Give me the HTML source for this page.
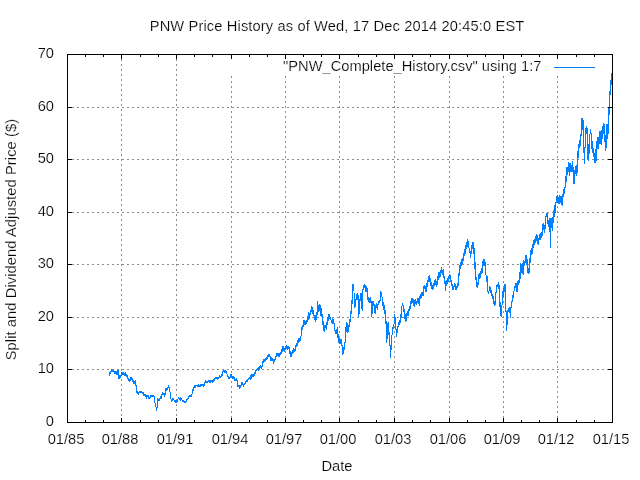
<!DOCTYPE html>
<html><head><meta charset="utf-8"><title>PNW Price History</title>
<style>
html,body{margin:0;padding:0;background:#fff;overflow:hidden}
svg{display:block}
text{font-family:"Liberation Sans",Arial,sans-serif;font-size:14.67px;fill:#000;stroke:#fff;stroke-width:0.2px}
</style></head><body>
<svg width="640" height="480" viewBox="0 0 640 480">
<rect width="640" height="480" fill="#fff"/>
<g stroke="#8c8c8c" stroke-width="1" shape-rendering="crispEdges" stroke-dasharray="2 3" fill="none">
<line x1="72" y1="369.5" x2="608" y2="369.5"/>
<line x1="72" y1="317.5" x2="608" y2="317.5"/>
<line x1="72" y1="264.5" x2="608" y2="264.5"/>
<line x1="72" y1="212.5" x2="608" y2="212.5"/>
<line x1="72" y1="159.5" x2="608" y2="159.5"/>
<line x1="72" y1="107.5" x2="608" y2="107.5"/>
<line x1="121.5" y1="59" x2="121.5" y2="418"/>
<line x1="176.5" y1="59" x2="176.5" y2="418"/>
<line x1="231.5" y1="76" x2="231.5" y2="418"/>
<line x1="285.5" y1="76" x2="285.5" y2="418"/>
<line x1="339.5" y1="76" x2="339.5" y2="418"/>
<line x1="394.5" y1="76" x2="394.5" y2="418"/>
<line x1="449.5" y1="76" x2="449.5" y2="418"/>
<line x1="503.5" y1="76" x2="503.5" y2="418"/>
<line x1="557.5" y1="76" x2="557.5" y2="418"/>
</g>
<path d="M109.38,375.6 L109.50,374.7 L109.62,375.0 L109.75,373.5 L109.88,372.7 L110,372.5 L110.12,371.8 L110.25,372.0 L110.38,373.6 L110.50,372.6 L110.62,373.1 L110.75,372.1 L110.88,372.2 L111,371.8 L111.12,370.2 L111.25,372.4 L111.38,371.8 L111.50,371.7 L111.62,369.8 L111.75,369.8 L111.88,370.6 L112,369.6 L112.12,370.0 L112.25,371.0 L112.38,370.6 L112.50,371.3 L112.62,369.7 L112.75,371.1 L112.88,371.2 L113,369.7 L113.12,371.8 L113.25,371.4 L113.38,372.1 L113.50,369.8 L113.62,370.0 L113.75,370.6 L113.88,370.5 L114,371.1 L114.12,372.4 L114.25,372.2 L114.38,371.6 L114.50,371.2 L114.62,372.1 L114.75,373.9 L114.88,372.4 L115,373.8 L115.12,373.8 L115.25,373.7 L115.38,371.3 L115.50,372.6 L115.62,373.7 L115.75,371.1 L115.88,371.1 L116,371.2 L116.12,371.6 L116.25,371.2 L116.38,373.3 L116.50,373.0 L116.62,371.6 L116.75,374.4 L116.88,374.4 L117,374.5 L117.12,374.4 L117.25,374.4 L117.38,373.4 L117.50,372.7 L117.62,370.6 L117.75,372.6 L117.88,370.6 L118,370.6 L118.12,370.6 L118.25,370.6 L118.38,372.4 L118.50,374.4 L118.62,378.1 L118.75,378.1 L118.88,375.5 L119,376.0 L119.12,377.9 L119.25,378.4 L119.38,377.9 L119.50,375.9 L119.62,375.7 L119.75,377.1 L119.88,375.5 L120,376.2 L120.12,374.9 L120.25,377.0 L120.38,376.8 L120.50,375.7 L120.62,375.6 L120.75,375.7 L120.88,376.2 L121,375.5 L121.12,375.2 L121.25,374.4 L121.38,375.0 L121.50,373.0 L121.62,375.2 L121.75,375.1 L121.88,374.4 L122,372.4 L122.12,372.7 L122.25,374.5 L122.38,372.1 L122.50,372.9 L122.62,374.2 L122.75,371.8 L122.88,374.1 L123,373.4 L123.12,372.5 L123.25,372.5 L123.38,373.3 L123.50,373.9 L123.62,373.4 L123.75,374.6 L123.88,372.8 L124,373.3 L124.12,375.0 L124.25,374.2 L124.38,374.4 L124.50,373.3 L124.62,375.4 L124.75,375.5 L124.88,373.9 L125,373.4 L125.12,374.4 L125.25,374.4 L125.38,374.2 L125.50,375.8 L125.62,373.5 L125.75,375.9 L125.88,373.6 L126,373.8 L126.12,375.6 L126.25,376.0 L126.38,376.0 L126.50,375.3 L126.62,375.1 L126.75,375.2 L126.88,375.0 L127,376.1 L127.12,375.5 L127.25,376.5 L127.38,377.2 L127.50,376.9 L127.62,378.2 L127.75,378.3 L127.88,379.3 L128,378.8 L128.12,378.8 L128.25,378.4 L128.38,378.7 L128.50,379.3 L128.62,380.5 L128.75,379.3 L128.88,380.3 L129,381.2 L129.12,379.2 L129.25,379.3 L129.38,380.9 L129.50,381.3 L129.62,381.3 L129.75,381.2 L129.88,380.5 L130,381.3 L130.12,380.6 L130.25,379.4 L130.38,381.2 L130.50,379.8 L130.62,378.4 L130.75,378.6 L130.88,378.2 L131,378.0 L131.12,377.3 L131.25,377.5 L131.38,377.2 L131.50,379.2 L131.62,377.4 L131.75,378.5 L131.88,379.9 L132,380.1 L132.12,380.6 L132.25,378.3 L132.38,379.4 L132.50,379.7 L132.62,381.1 L132.75,380.6 L132.88,382.2 L133,379.9 L133.12,382.8 L133.25,380.4 L133.38,382.9 L133.50,381.0 L133.62,383.0 L133.75,383.1 L133.88,383.6 L134,382.6 L134.12,382.8 L134.25,383.3 L134.38,382.4 L134.50,382.0 L134.62,383.0 L134.75,382.9 L134.88,381.3 L135,382.5 L135.12,380.3 L135.25,382.2 L135.38,380.7 L135.50,380.9 L135.62,380.6 L135.75,382.8 L135.88,383.7 L136,385.6 L136.12,384.8 L136.25,386.3 L136.38,389.8 L136.50,390.6 L136.62,390.0 L136.75,390.2 L136.88,390.1 L137,392.7 L137.12,392.5 L137.25,393.2 L137.38,391.5 L137.50,392.5 L137.62,391.8 L137.75,393.7 L137.88,393.8 L138,392.8 L138.12,393.8 L138.25,394.1 L138.38,394.0 L138.50,393.0 L138.62,392.0 L138.75,393.7 L138.88,392.5 L139,391.9 L139.12,392.6 L139.25,392.4 L139.38,391.9 L139.50,393.2 L139.62,391.2 L139.75,392.8 L139.88,392.9 L140,392.8 L140.12,391.7 L140.25,391.2 L140.38,392.7 L140.50,392.0 L140.62,392.0 L140.75,392.8 L140.88,391.7 L141,391.0 L141.12,391.5 L141.25,391.0 L141.38,392.6 L141.50,392.1 L141.62,391.4 L141.75,391.9 L141.88,392.6 L142,391.9 L142.12,393.0 L142.25,391.8 L142.38,392.8 L142.50,391.9 L142.62,393.4 L142.75,393.8 L142.88,392.3 L143,393.8 L143.12,391.9 L143.25,392.9 L143.38,392.6 L143.50,395.2 L143.62,393.7 L143.75,395.0 L143.88,395.2 L144,395.6 L144.12,395.6 L144.25,395.1 L144.38,395.7 L144.50,396.3 L144.62,395.4 L144.75,395.7 L144.88,396.1 L145,395.1 L145.12,394.3 L145.25,394.7 L145.38,395.9 L145.50,395.0 L145.62,395.0 L145.75,395.1 L145.88,396.8 L146,397.2 L146.12,397.1 L146.25,398.2 L146.38,398.3 L146.50,398.8 L146.62,397.5 L146.75,396.7 L146.88,396.9 L147,397.5 L147.12,396.0 L147.25,395.3 L147.38,395.0 L147.50,395.0 L147.62,395.0 L147.75,395.7 L147.88,395.2 L148,396.8 L148.12,395.2 L148.25,397.5 L148.38,397.2 L148.50,396.6 L148.62,398.8 L148.75,398.8 L148.88,398.4 L149,397.3 L149.12,397.6 L149.25,398.2 L149.38,397.5 L149.50,398.2 L149.62,398.0 L149.75,397.7 L149.88,397.3 L150,396.9 L150.12,397.7 L150.25,397.1 L150.38,396.8 L150.50,395.5 L150.62,396.9 L150.75,397.0 L150.88,395.8 L151,395.5 L151.12,396.6 L151.25,394.8 L151.38,395.9 L151.50,396.4 L151.62,394.6 L151.75,395.7 L151.88,395.0 L152,396.4 L152.12,395.3 L152.25,396.0 L152.38,396.4 L152.50,395.3 L152.62,396.1 L152.75,396.5 L152.88,397.1 L153,396.7 L153.12,396.9 L153.25,396.6 L153.38,395.8 L153.50,396.1 L153.62,396.8 L153.75,396.1 L153.88,395.6 L154,395.6 L154.12,395.9 L154.25,399.3 L154.38,399.0 L154.50,399.5 L154.62,398.2 L154.75,401.2 L154.88,401.9 L155,402.5 L155.12,404.0 L155.25,403.8 L155.38,404.1 L155.50,405.0 L155.62,404.2 L155.75,406.3 L155.88,406.5 L156,406.9 L156.12,407.2 L156.25,408.7 L156.38,409.5 L156.50,408.8 L156.62,409.7 L156.75,410.7 L156.88,411.2 L157,408.8 L157.12,406.1 L157.25,403.2 L157.38,402.6 L157.50,398.8 L157.62,399.6 L157.75,398.8 L157.88,398.8 L158,400.4 L158.12,400.0 L158.25,400.3 L158.38,400.2 L158.50,399.2 L158.62,400.0 L158.75,400.0 L158.88,398.6 L159,399.1 L159.12,399.4 L159.25,399.6 L159.38,398.6 L159.50,398.8 L159.62,399.0 L159.75,398.8 L159.88,398.8 L160,398.1 L160.12,398.3 L160.25,397.9 L160.38,398.7 L160.50,398.2 L160.62,397.5 L160.75,397.7 L160.88,398.1 L161,398.0 L161.12,398.1 L161.25,398.1 L161.38,397.4 L161.50,396.8 L161.62,395.9 L161.75,394.3 L161.88,394.9 L162,394.7 L162.12,393.1 L162.25,393.7 L162.38,393.4 L162.50,394.2 L162.62,393.3 L162.75,393.2 L162.88,394.6 L163,394.0 L163.12,395.0 L163.25,395.4 L163.38,393.8 L163.50,393.5 L163.62,393.5 L163.75,395.4 L163.88,393.8 L164,393.8 L164.12,393.8 L164.25,394.2 L164.38,395.7 L164.50,396.2 L164.62,396.5 L164.75,396.9 L164.88,396.9 L165,395.6 L165.12,394.1 L165.25,393.8 L165.38,393.8 L165.50,392.3 L165.62,391.5 L165.75,388.8 L165.88,388.8 L166,388.8 L166.12,389.5 L166.25,388.6 L166.38,389.9 L166.50,389.5 L166.62,389.9 L166.75,388.9 L166.88,390.1 L167,390.1 L167.12,389.0 L167.25,389.4 L167.38,389.4 L167.50,389.4 L167.62,388.5 L167.75,389.1 L167.88,388.7 L168,387.2 L168.12,385.5 L168.25,386.3 L168.38,385.9 L168.50,385.0 L168.62,386.6 L168.75,386.7 L168.88,386.4 L169,387.6 L169.12,387.8 L169.25,387.9 L169.38,388.1 L169.50,389.0 L169.62,389.5 L169.75,391.1 L169.88,390.4 L170,391.6 L170.12,393.0 L170.25,393.8 L170.38,393.4 L170.50,395.1 L170.62,396.2 L170.75,395.6 L170.88,397.4 L171,399.0 L171.12,399.8 L171.25,400.2 L171.38,400.9 L171.50,401.9 L171.62,400.5 L171.75,401.9 L171.88,400.8 L172,400.7 L172.12,398.9 L172.25,398.9 L172.38,398.1 L172.50,398.1 L172.62,398.9 L172.75,399.1 L172.88,398.0 L173,398.8 L173.12,399.5 L173.25,398.4 L173.38,398.5 L173.50,398.9 L173.62,399.4 L173.75,400.0 L173.88,399.3 L174,400.3 L174.12,400.6 L174.25,401.0 L174.38,401.2 L174.50,401.7 L174.62,401.8 L174.75,400.4 L174.88,401.0 L175,400.9 L175.12,401.0 L175.25,401.8 L175.38,402.0 L175.50,402.4 L175.62,402.2 L175.75,401.2 L175.88,401.3 L176,401.9 L176.12,401.7 L176.25,401.5 L176.38,401.6 L176.50,401.0 L176.62,401.8 L176.75,401.5 L176.88,401.1 L177,400.6 L177.12,400.8 L177.25,399.8 L177.38,400.1 L177.50,400.6 L177.62,400.3 L177.75,399.0 L177.88,399.8 L178,399.5 L178.12,398.1 L178.25,398.6 L178.38,398.2 L178.50,398.1 L178.62,398.5 L178.75,398.8 L178.88,398.4 L179,398.0 L179.12,398.5 L179.25,398.7 L179.38,399.4 L179.50,399.2 L179.62,398.6 L179.75,398.3 L179.88,399.0 L180,399.4 L180.12,398.9 L180.25,398.7 L180.38,399.4 L180.50,399.1 L180.62,399.6 L180.75,399.9 L180.88,399.3 L181,400.4 L181.12,399.4 L181.25,400.4 L181.38,399.7 L181.50,400.4 L181.62,399.0 L181.75,399.2 L181.88,399.8 L182,400.0 L182.12,400.3 L182.25,400.9 L182.38,400.3 L182.50,401.0 L182.62,400.7 L182.75,400.9 L182.88,400.7 L183,400.4 L183.12,400.9 L183.25,400.0 L183.38,401.5 L183.50,400.2 L183.62,401.1 L183.75,401.0 L183.88,401.9 L184,401.0 L184.12,401.3 L184.25,402.1 L184.38,401.4 L184.50,401.0 L184.62,401.7 L184.75,402.0 L184.88,402.2 L185,401.4 L185.12,402.7 L185.25,402.7 L185.38,402.1 L185.50,402.3 L185.62,402.2 L185.75,401.8 L185.88,402.2 L186,401.1 L186.12,401.7 L186.25,400.8 L186.38,400.4 L186.50,401.1 L186.62,401.2 L186.75,400.1 L186.88,399.5 L187,400.2 L187.12,399.4 L187.25,399.4 L187.38,400.0 L187.50,398.8 L187.62,399.4 L187.75,398.1 L187.88,399.2 L188,398.1 L188.12,398.5 L188.25,397.3 L188.38,397.6 L188.50,396.6 L188.62,398.1 L188.75,397.9 L188.88,396.1 L189,396.0 L189.12,395.9 L189.25,397.3 L189.38,396.2 L189.50,395.9 L189.62,396.1 L189.75,395.9 L189.88,396.0 L190,395.3 L190.12,396.1 L190.25,395.2 L190.38,395.9 L190.50,396.2 L190.62,396.3 L190.75,395.7 L190.88,395.2 L191,396.0 L191.12,395.4 L191.25,396.6 L191.38,396.3 L191.50,395.6 L191.62,395.3 L191.75,395.1 L191.88,395.6 L192,394.1 L192.12,393.7 L192.25,393.5 L192.38,392.8 L192.50,392.1 L192.62,392.7 L192.75,390.0 L192.88,389.1 L193,389.5 L193.12,391.4 L193.25,387.9 L193.38,388.3 L193.50,388.7 L193.62,388.5 L193.75,388.5 L193.88,387.6 L194,387.9 L194.12,387.4 L194.25,387.9 L194.38,386.9 L194.50,386.1 L194.62,385.9 L194.75,386.6 L194.88,385.6 L195,385.5 L195.12,387.0 L195.25,385.6 L195.38,386.8 L195.50,386.9 L195.62,386.3 L195.75,386.5 L195.88,385.8 L196,384.9 L196.12,385.7 L196.25,385.6 L196.38,386.1 L196.50,385.1 L196.62,385.5 L196.75,386.3 L196.88,384.7 L197,386.2 L197.12,386.5 L197.25,385.0 L197.38,385.7 L197.50,385.3 L197.62,386.5 L197.75,385.8 L197.88,386.4 L198,384.8 L198.12,385.4 L198.25,385.4 L198.38,384.5 L198.50,386.6 L198.62,386.3 L198.75,385.4 L198.88,384.8 L199,386.4 L199.12,385.7 L199.25,386.4 L199.38,386.5 L199.50,385.2 L199.62,386.2 L199.75,387.4 L199.88,386.2 L200,386.9 L200.12,385.7 L200.25,385.2 L200.38,385.1 L200.50,386.5 L200.62,386.9 L200.75,386.2 L200.88,385.8 L201,386.7 L201.12,384.7 L201.25,385.0 L201.38,384.4 L201.50,385.7 L201.62,385.8 L201.75,384.4 L201.88,384.4 L202,385.8 L202.12,385.8 L202.25,384.6 L202.38,385.5 L202.50,385.3 L202.62,386.4 L202.75,386.0 L202.88,385.8 L203,385.7 L203.12,385.3 L203.25,386.5 L203.38,386.4 L203.50,384.9 L203.62,386.0 L203.75,384.2 L203.88,384.9 L204,384.8 L204.12,385.3 L204.25,385.2 L204.38,383.7 L204.50,383.8 L204.62,383.9 L204.75,382.4 L204.88,383.2 L205,382.3 L205.12,383.2 L205.25,381.7 L205.38,381.5 L205.50,382.1 L205.62,381.9 L205.75,382.1 L205.88,381.2 L206,382.8 L206.12,381.5 L206.25,381.1 L206.38,382.3 L206.50,380.7 L206.62,381.0 L206.75,381.7 L206.88,382.6 L207,381.5 L207.12,382.0 L207.25,380.9 L207.38,381.9 L207.50,382.7 L207.62,380.8 L207.75,382.6 L207.88,380.8 L208,381.5 L208.12,381.5 L208.25,381.6 L208.38,382.4 L208.50,380.2 L208.62,380.2 L208.75,381.9 L208.88,382.0 L209,381.8 L209.12,382.1 L209.25,381.2 L209.38,381.2 L209.50,381.9 L209.62,381.2 L209.75,381.9 L209.88,379.8 L210,380.6 L210.12,380.3 L210.25,380.0 L210.38,381.9 L210.50,380.7 L210.62,382.3 L210.75,382.4 L210.88,381.5 L211,381.3 L211.12,381.2 L211.25,381.9 L211.38,380.9 L211.50,381.1 L211.62,382.4 L211.75,381.7 L211.88,381.7 L212,381.3 L212.12,382.5 L212.25,382.0 L212.38,381.2 L212.50,382.0 L212.62,381.1 L212.75,380.0 L212.88,382.1 L213,381.6 L213.12,381.0 L213.25,379.8 L213.38,381.6 L213.50,380.9 L213.62,379.3 L213.75,381.3 L213.88,380.5 L214,381.0 L214.12,380.0 L214.25,379.5 L214.38,378.4 L214.50,380.5 L214.62,379.2 L214.75,378.7 L214.88,379.3 L215,378.8 L215.12,378.8 L215.25,379.4 L215.38,378.1 L215.50,378.4 L215.62,377.2 L215.75,377.7 L215.88,379.0 L216,379.2 L216.12,377.6 L216.25,377.8 L216.38,379.1 L216.50,377.8 L216.62,377.4 L216.75,378.7 L216.88,379.1 L217,378.0 L217.12,379.2 L217.25,377.2 L217.38,378.4 L217.50,378.1 L217.62,378.4 L217.75,379.4 L217.88,379.4 L218,377.7 L218.12,378.5 L218.25,377.7 L218.38,378.8 L218.50,376.8 L218.62,378.4 L218.75,378.4 L218.88,377.2 L219,378.0 L219.12,376.3 L219.25,378.0 L219.38,376.9 L219.50,376.1 L219.62,376.0 L219.75,376.2 L219.88,376.4 L220,377.9 L220.12,377.0 L220.25,376.4 L220.38,377.5 L220.50,377.9 L220.62,376.9 L220.75,377.3 L220.88,377.4 L221,376.9 L221.12,376.9 L221.25,374.7 L221.38,376.9 L221.50,376.9 L221.62,373.8 L221.75,375.0 L221.88,375.2 L222,375.6 L222.12,374.9 L222.25,373.8 L222.38,373.2 L222.50,372.4 L222.62,373.3 L222.75,374.3 L222.88,371.6 L223,371.5 L223.12,372.4 L223.25,371.1 L223.38,371.7 L223.50,371.3 L223.62,372.3 L223.75,370.6 L223.88,370.2 L224,370.6 L224.12,370.9 L224.25,369.9 L224.38,370.6 L224.50,370.7 L224.62,371.9 L224.75,372.2 L224.88,372.3 L225,370.0 L225.12,370.6 L225.25,370.1 L225.38,372.6 L225.50,370.5 L225.62,371.5 L225.75,372.4 L225.88,370.8 L226,371.9 L226.12,372.7 L226.25,372.3 L226.38,371.4 L226.50,373.1 L226.62,374.1 L226.75,371.9 L226.88,374.4 L227,373.8 L227.12,374.4 L227.25,374.5 L227.38,375.9 L227.50,374.4 L227.62,374.5 L227.75,376.4 L227.88,375.2 L228,377.0 L228.12,375.6 L228.25,376.9 L228.38,378.8 L228.50,378.4 L228.62,378.1 L228.75,378.8 L228.88,377.2 L229,377.4 L229.12,378.4 L229.25,379.0 L229.38,378.3 L229.50,378.3 L229.62,377.4 L229.75,378.4 L229.88,376.6 L230,376.9 L230.12,376.0 L230.25,377.6 L230.38,376.4 L230.50,375.8 L230.62,375.2 L230.75,375.4 L230.88,376.3 L231,375.8 L231.12,374.4 L231.25,375.0 L231.38,375.7 L231.50,375.6 L231.62,374.6 L231.75,376.7 L231.88,375.6 L232,375.7 L232.12,377.3 L232.25,377.5 L232.38,375.8 L232.50,376.9 L232.62,377.5 L232.75,376.0 L232.88,378.2 L233,376.6 L233.12,378.4 L233.25,376.6 L233.38,378.4 L233.50,378.7 L233.62,376.5 L233.75,377.2 L233.88,378.4 L234,377.8 L234.12,377.2 L234.25,379.5 L234.38,378.1 L234.50,378.5 L234.62,377.8 L234.75,379.9 L234.88,378.1 L235,380.6 L235.12,379.0 L235.25,380.0 L235.38,380.9 L235.50,380.5 L235.62,380.6 L235.75,379.0 L235.88,378.9 L236,381.0 L236.12,380.7 L236.25,378.7 L236.38,380.5 L236.50,379.9 L236.62,379.9 L236.75,378.8 L236.88,378.8 L237,379.6 L237.12,382.1 L237.25,383.0 L237.38,384.3 L237.50,382.0 L237.62,385.9 L237.75,386.9 L237.88,386.9 L238,386.9 L238.12,385.5 L238.25,386.0 L238.38,386.2 L238.50,386.9 L238.62,385.4 L238.75,386.7 L238.88,384.8 L239,385.7 L239.12,384.9 L239.25,385.3 L239.38,385.0 L239.50,385.0 L239.62,385.0 L239.75,387.9 L239.88,387.8 L240,388.1 L240.12,387.3 L240.25,387.7 L240.38,388.1 L240.50,385.8 L240.62,386.3 L240.75,386.7 L240.88,386.3 L241,385.1 L241.12,383.5 L241.25,386.1 L241.38,384.8 L241.50,384.1 L241.62,383.5 L241.75,383.7 L241.88,383.1 L242,382.8 L242.12,382.7 L242.25,382.8 L242.38,383.2 L242.50,383.3 L242.62,383.1 L242.75,385.0 L242.88,383.4 L243,385.3 L243.12,383.8 L243.25,385.3 L243.38,386.0 L243.50,385.5 L243.62,384.7 L243.75,385.6 L243.88,385.4 L244,385.3 L244.12,383.6 L244.25,384.0 L244.38,384.5 L244.50,383.6 L244.62,384.0 L244.75,384.4 L244.88,384.2 L245,383.1 L245.12,383.9 L245.25,383.4 L245.38,382.3 L245.50,382.4 L245.62,382.0 L245.75,381.8 L245.88,381.8 L246,380.7 L246.12,381.3 L246.25,381.4 L246.38,380.2 L246.50,381.1 L246.62,381.5 L246.75,380.6 L246.88,380.6 L247,381.7 L247.12,379.4 L247.25,380.0 L247.38,379.1 L247.50,381.1 L247.62,381.0 L247.75,378.7 L247.88,379.8 L248,380.1 L248.12,379.0 L248.25,379.9 L248.38,378.1 L248.50,380.0 L248.62,379.3 L248.75,378.8 L248.88,378.8 L249,378.0 L249.12,379.4 L249.25,378.1 L249.38,378.9 L249.50,378.0 L249.62,377.2 L249.75,378.5 L249.88,378.8 L250,378.5 L250.12,378.8 L250.25,376.9 L250.38,377.6 L250.50,378.1 L250.62,377.2 L250.75,378.2 L250.88,377.9 L251,375.5 L251.12,375.3 L251.25,375.6 L251.38,376.7 L251.50,377.2 L251.62,376.8 L251.75,376.7 L251.88,374.8 L252,374.7 L252.12,376.7 L252.25,374.5 L252.38,374.5 L252.50,374.5 L252.62,376.7 L252.75,376.7 L252.88,374.8 L253,374.7 L253.12,375.6 L253.25,375.8 L253.38,374.5 L253.50,376.5 L253.62,375.2 L253.75,374.1 L253.88,376.3 L254,374.3 L254.12,375.2 L254.25,374.9 L254.38,374.4 L254.50,375.1 L254.62,373.7 L254.75,372.9 L254.88,372.6 L255,374.4 L255.12,372.3 L255.25,372.5 L255.38,373.0 L255.50,372.7 L255.62,372.9 L255.75,371.9 L255.88,370.2 L256,369.9 L256.12,369.3 L256.25,370.0 L256.38,369.6 L256.50,370.3 L256.62,370.2 L256.75,369.1 L256.88,368.8 L257,370.2 L257.12,368.7 L257.25,369.6 L257.38,369.2 L257.50,368.1 L257.62,368.6 L257.75,369.8 L257.88,367.7 L258,368.1 L258.12,367.6 L258.25,367.7 L258.38,370.1 L258.50,370.2 L258.62,369.3 L258.75,369.4 L258.88,369.9 L259,369.8 L259.12,369.6 L259.25,369.5 L259.38,366.9 L259.50,366.9 L259.62,368.3 L259.75,369.0 L259.88,367.3 L260,366.9 L260.12,366.1 L260.25,366.4 L260.38,365.9 L260.50,365.7 L260.62,368.1 L260.75,366.0 L260.88,366.9 L261,368.1 L261.12,368.1 L261.25,367.4 L261.38,366.0 L261.50,367.5 L261.62,367.3 L261.75,367.0 L261.88,366.9 L262,366.9 L262.12,365.8 L262.25,365.8 L262.38,364.1 L262.50,364.4 L262.62,365.2 L262.75,361.3 L262.88,361.9 L263,361.6 L263.12,361.9 L263.25,360.5 L263.38,360.8 L263.50,362.4 L263.62,362.3 L263.75,361.8 L263.88,361.2 L264,359.2 L264.12,361.9 L264.25,360.3 L264.38,360.0 L264.50,359.9 L264.62,358.8 L264.75,359.9 L264.88,358.6 L265,360.0 L265.12,360.7 L265.25,359.9 L265.38,360.3 L265.50,358.5 L265.62,361.2 L265.75,358.7 L265.88,358.1 L266,359.5 L266.12,358.5 L266.25,359.8 L266.38,357.7 L266.50,358.4 L266.62,359.2 L266.75,356.7 L266.88,357.7 L267,359.3 L267.12,358.4 L267.25,356.9 L267.38,356.4 L267.50,356.6 L267.62,355.9 L267.75,355.8 L267.88,356.9 L268,355.2 L268.12,353.9 L268.25,354.8 L268.38,353.7 L268.50,354.4 L268.62,355.7 L268.75,353.7 L268.88,355.3 L269,356.7 L269.12,354.0 L269.25,354.2 L269.38,354.4 L269.50,354.7 L269.62,355.0 L269.75,357.1 L269.88,355.6 L270,356.9 L270.12,356.1 L270.25,356.3 L270.38,359.1 L270.50,357.1 L270.62,358.2 L270.75,359.8 L270.88,360.2 L271,360.0 L271.12,360.3 L271.25,360.2 L271.38,359.2 L271.50,358.9 L271.62,360.1 L271.75,359.9 L271.88,357.5 L272,357.5 L272.12,359.3 L272.25,359.6 L272.38,359.7 L272.50,359.4 L272.62,358.5 L272.75,361.2 L272.88,360.3 L273,359.1 L273.12,362.1 L273.25,361.9 L273.38,359.7 L273.50,362.3 L273.62,362.3 L273.75,359.5 L273.88,362.1 L274,361.9 L274.12,361.7 L274.25,358.9 L274.38,360.6 L274.50,361.2 L274.62,360.7 L274.75,360.1 L274.88,359.7 L275,360.6 L275.12,357.5 L275.25,357.2 L275.38,356.9 L275.50,357.1 L275.62,356.7 L275.75,358.0 L275.88,357.6 L276,356.9 L276.12,355.4 L276.25,356.2 L276.38,354.8 L276.50,356.7 L276.62,355.7 L276.75,353.9 L276.88,353.1 L277,352.9 L277.12,355.5 L277.25,352.6 L277.38,355.0 L277.50,355.5 L277.62,353.8 L277.75,355.8 L277.88,353.0 L278,356.0 L278.12,355.0 L278.25,355.4 L278.38,353.5 L278.50,356.4 L278.62,353.8 L278.75,356.7 L278.88,354.2 L279,355.1 L279.12,356.0 L279.25,355.0 L279.38,355.6 L279.50,355.8 L279.62,354.1 L279.75,356.1 L279.88,354.6 L280,354.8 L280.12,352.7 L280.25,355.4 L280.38,353.7 L280.50,352.1 L280.62,353.1 L280.75,353.2 L280.88,353.7 L281,354.3 L281.12,351.1 L281.25,353.9 L281.38,352.0 L281.50,353.6 L281.62,351.7 L281.75,352.9 L281.88,351.0 L282,349.5 L282.12,352.1 L282.25,351.2 L282.38,351.8 L282.50,351.7 L282.62,349.6 L282.75,346.9 L282.88,346.9 L283,346.9 L283.12,346.9 L283.25,347.3 L283.38,347.5 L283.50,350.6 L283.62,350.6 L283.75,349.9 L283.88,351.1 L284,351.2 L284.12,350.7 L284.25,351.0 L284.38,351.5 L284.50,351.4 L284.62,348.4 L284.75,347.9 L284.88,350.6 L285,349.0 L285.12,350.1 L285.25,348.1 L285.38,346.5 L285.50,347.0 L285.62,347.4 L285.75,345.6 L285.88,345.9 L286,348.1 L286.12,348.2 L286.25,348.0 L286.38,344.8 L286.50,345.6 L286.62,345.2 L286.75,347.4 L286.88,348.7 L287,347.6 L287.12,345.7 L287.25,349.0 L287.38,349.1 L287.50,348.8 L287.62,349.5 L287.75,347.4 L287.88,348.8 L288,349.5 L288.12,346.7 L288.25,346.2 L288.38,348.1 L288.50,348.2 L288.62,347.1 L288.75,346.9 L288.88,349.1 L289,346.8 L289.12,348.0 L289.25,348.0 L289.38,350.2 L289.50,351.8 L289.62,349.5 L289.75,353.0 L289.88,353.6 L290,351.2 L290.12,353.3 L290.25,353.6 L290.38,356.1 L290.50,353.4 L290.62,354.2 L290.75,353.1 L290.88,356.2 L291,356.2 L291.12,356.5 L291.25,356.4 L291.38,355.9 L291.50,354.4 L291.62,354.7 L291.75,352.3 L291.88,355.4 L292,352.6 L292.12,351.5 L292.25,351.3 L292.38,351.1 L292.50,351.9 L292.62,353.3 L292.75,353.2 L292.88,350.0 L293,352.7 L293.12,352.4 L293.25,349.7 L293.38,349.2 L293.50,349.1 L293.62,349.0 L293.75,350.0 L293.88,350.7 L294,349.4 L294.12,348.7 L294.25,350.7 L294.38,348.8 L294.50,351.9 L294.62,348.6 L294.75,349.2 L294.88,349.0 L295,350.6 L295.12,349.0 L295.25,350.6 L295.38,350.6 L295.50,349.6 L295.62,348.5 L295.75,345.5 L295.88,345.8 L296,346.2 L296.12,344.9 L296.25,344.5 L296.38,346.5 L296.50,343.7 L296.62,343.5 L296.75,343.1 L296.88,342.8 L297,345.4 L297.12,345.2 L297.25,344.0 L297.38,341.4 L297.50,343.1 L297.62,340.0 L297.75,342.4 L297.88,343.6 L298,341.6 L298.12,342.4 L298.25,342.5 L298.38,341.7 L298.50,338.8 L298.62,338.1 L298.75,341.3 L298.88,341.2 L299,338.2 L299.12,339.1 L299.25,338.5 L299.38,340.3 L299.50,342.0 L299.62,338.7 L299.75,341.2 L299.88,338.2 L300,341.2 L300.12,340.6 L300.25,341.2 L300.38,336.3 L300.50,340.6 L300.62,340.2 L300.75,339.7 L300.88,336.3 L301,336.2 L301.12,335.8 L301.25,333.8 L301.38,335.4 L301.50,334.4 L301.62,331.1 L301.75,327.3 L301.88,328.8 L302,330.2 L302.12,326.8 L302.25,329.2 L302.38,327.9 L302.50,328.7 L302.62,328.3 L302.75,325.0 L302.88,326.6 L303,327.2 L303.12,325.0 L303.25,323.0 L303.38,324.9 L303.50,325.7 L303.62,325.3 L303.75,323.2 L303.88,320.5 L304,320.6 L304.12,320.1 L304.25,322.2 L304.38,323.0 L304.50,324.4 L304.62,320.8 L304.75,324.7 L304.88,324.9 L305,324.4 L305.12,321.6 L305.25,321.9 L305.38,324.2 L305.50,322.4 L305.62,323.0 L305.75,324.5 L305.88,321.2 L306,324.1 L306.12,321.0 L306.25,322.5 L306.38,320.9 L306.50,323.5 L306.62,320.4 L306.75,322.5 L306.88,323.5 L307,321.4 L307.12,320.8 L307.25,322.0 L307.38,319.9 L307.50,320.6 L307.62,321.3 L307.75,315.6 L307.88,319.9 L308,316.0 L308.12,314.4 L308.25,319.7 L308.38,312.6 L308.50,318.0 L308.62,315.2 L308.75,312.5 L308.88,317.7 L309,312.5 L309.12,318.1 L309.25,318.1 L309.38,318.1 L309.50,317.2 L309.62,316.5 L309.75,318.1 L309.88,316.1 L310,313.8 L310.12,312.6 L310.25,315.0 L310.38,314.1 L310.50,313.0 L310.62,311.9 L310.75,314.3 L310.88,309.9 L311,311.6 L311.12,312.4 L311.25,307.9 L311.38,311.7 L311.50,308.1 L311.62,311.3 L311.75,307.4 L311.88,307.6 L312,307.6 L312.12,307.7 L312.25,311.8 L312.38,308.2 L312.50,311.2 L312.62,312.8 L312.75,313.0 L312.88,309.2 L313,310.7 L313.12,310.4 L313.25,313.9 L313.38,311.4 L313.50,311.9 L313.62,312.1 L313.75,314.0 L313.88,316.3 L314,314.8 L314.12,316.8 L314.25,316.3 L314.38,318.8 L314.50,319.3 L314.62,316.1 L314.75,319.7 L314.88,317.5 L315,318.7 L315.12,322.1 L315.25,320.7 L315.38,318.1 L315.50,321.5 L315.62,321.2 L315.75,317.8 L315.88,315.2 L316,316.6 L316.12,319.7 L316.25,317.8 L316.38,315.6 L316.50,315.0 L316.62,314.4 L316.75,311.8 L316.88,316.6 L317,315.3 L317.12,311.8 L317.25,314.4 L317.38,305.0 L317.50,303.8 L317.62,312.0 L317.75,301.2 L317.88,301.2 L318,304.6 L318.12,307.2 L318.25,307.9 L318.38,309.3 L318.50,311.9 L318.62,307.2 L318.75,307.4 L318.88,311.9 L319,306.8 L319.12,310.8 L319.25,306.0 L319.38,306.9 L319.50,305.8 L319.62,307.2 L319.75,308.7 L319.88,304.1 L320,307.5 L320.12,306.6 L320.25,305.0 L320.38,305.0 L320.50,308.5 L320.62,306.6 L320.75,309.1 L320.88,313.4 L321,315.6 L321.12,307.9 L321.25,315.0 L321.38,312.3 L321.50,313.0 L321.62,313.7 L321.75,316.7 L321.88,314.4 L322,314.4 L322.12,319.8 L322.25,314.4 L322.38,314.8 L322.50,323.4 L322.62,321.3 L322.75,321.2 L322.88,324.5 L323,320.8 L323.12,325.8 L323.25,325.2 L323.38,327.0 L323.50,326.2 L323.62,327.0 L323.75,330.6 L323.88,326.8 L324,326.8 L324.12,326.4 L324.25,331.2 L324.38,331.2 L324.50,328.7 L324.62,327.2 L324.75,326.6 L324.88,327.0 L325,325.0 L325.12,325.8 L325.25,325.0 L325.38,325.0 L325.50,325.0 L325.62,325.0 L325.75,327.0 L325.88,326.4 L326,328.4 L326.12,329.4 L326.25,329.4 L326.38,329.4 L326.50,324.6 L326.62,325.9 L326.75,324.6 L326.88,327.8 L327,322.5 L327.12,322.6 L327.25,323.8 L327.38,322.5 L327.50,322.0 L327.62,325.0 L327.75,320.8 L327.88,323.7 L328,317.2 L328.12,320.6 L328.25,314.4 L328.38,319.8 L328.50,314.4 L328.62,315.8 L328.75,316.3 L328.88,315.5 L329,316.8 L329.12,313.7 L329.25,317.9 L329.38,314.7 L329.50,318.5 L329.62,317.0 L329.75,315.1 L329.88,315.4 L330,317.5 L330.12,319.9 L330.25,317.8 L330.38,317.4 L330.50,319.4 L330.62,317.9 L330.75,317.9 L330.88,320.0 L331,320.4 L331.12,321.6 L331.25,320.6 L331.38,320.6 L331.50,321.9 L331.62,321.8 L331.75,321.7 L331.88,321.6 L332,319.8 L332.12,319.7 L332.25,318.7 L332.38,318.0 L332.50,318.8 L332.62,319.2 L332.75,318.8 L332.88,323.6 L333,322.6 L333.12,320.7 L333.25,319.5 L333.38,323.0 L333.50,323.8 L333.62,322.9 L333.75,321.9 L333.88,322.3 L334,322.7 L334.12,326.4 L334.25,325.1 L334.38,328.8 L334.50,325.7 L334.62,325.6 L334.75,326.2 L334.88,331.2 L335,329.4 L335.12,330.9 L335.25,331.9 L335.38,331.1 L335.50,330.7 L335.62,332.9 L335.75,333.6 L335.88,334.3 L336,331.8 L336.12,332.8 L336.25,330.8 L336.38,333.1 L336.50,333.1 L336.62,328.9 L336.75,332.6 L336.88,332.9 L337,332.8 L337.12,327.5 L337.25,327.5 L337.38,331.2 L337.50,327.9 L337.62,328.9 L337.75,328.7 L337.88,335.5 L338,337.7 L338.12,335.0 L338.25,334.6 L338.38,335.1 L338.50,336.9 L338.62,341.8 L338.75,341.6 L338.88,339.2 L339,341.2 L339.12,337.9 L339.25,340.5 L339.38,343.7 L339.50,343.8 L339.62,342.3 L339.75,341.7 L339.88,342.4 L340,343.8 L340.12,340.6 L340.25,343.8 L340.38,339.8 L340.50,343.8 L340.62,339.4 L340.75,339.4 L340.88,340.5 L341,339.4 L341.12,339.4 L341.25,342.8 L341.38,342.1 L341.50,340.5 L341.62,345.1 L341.75,346.4 L341.88,345.6 L342,343.4 L342.12,352.2 L342.25,351.1 L342.38,353.0 L342.50,353.1 L342.62,349.9 L342.75,352.1 L342.88,353.0 L343,354.6 L343.12,351.7 L343.25,352.5 L343.38,350.6 L343.50,354.4 L343.62,352.6 L343.75,352.3 L343.88,347.2 L344,347.9 L344.12,348.7 L344.25,349.5 L344.38,345.0 L344.50,346.1 L344.62,343.9 L344.75,341.8 L344.88,342.1 L345,343.8 L345.12,339.6 L345.25,338.6 L345.38,335.4 L345.50,336.6 L345.62,330.0 L345.75,330.3 L345.88,326.7 L346,332.6 L346.12,330.8 L346.25,328.1 L346.38,327.3 L346.50,324.1 L346.62,322.5 L346.75,322.5 L346.88,322.5 L347,326.3 L347.12,323.3 L347.25,323.5 L347.38,328.7 L347.50,330.2 L347.62,332.5 L347.75,332.5 L347.88,332.5 L348,332.5 L348.12,328.1 L348.25,331.7 L348.38,326.2 L348.50,329.5 L348.62,327.5 L348.75,326.2 L348.88,326.4 L349,327.7 L349.12,324.8 L349.25,326.9 L349.38,326.1 L349.50,323.8 L349.62,321.5 L349.75,322.5 L349.88,319.5 L350,319.0 L350.12,318.7 L350.25,318.1 L350.38,322.3 L350.50,317.8 L350.62,315.0 L350.75,316.6 L350.88,311.5 L351,311.3 L351.12,311.8 L351.25,312.7 L351.38,308.7 L351.50,313.8 L351.62,308.9 L351.75,312.6 L351.88,309.4 L352,299.9 L352.12,304.4 L352.25,302.7 L352.38,300.0 L352.50,296.9 L352.62,297.3 L352.75,294.7 L352.88,292.7 L353,284.4 L353.12,286.6 L353.25,284.4 L353.38,288.1 L353.50,284.4 L353.62,287.5 L353.75,287.8 L353.88,287.8 L354,290.6 L354.12,300.7 L354.25,302.3 L354.38,298.8 L354.50,300.3 L354.62,306.2 L354.75,299.2 L354.88,299.9 L355,307.5 L355.12,305.0 L355.25,302.7 L355.38,302.5 L355.50,303.7 L355.62,307.3 L355.75,298.9 L355.88,300.0 L356,298.8 L356.12,299.1 L356.25,297.6 L356.38,300.1 L356.50,299.6 L356.62,294.4 L356.75,296.1 L356.88,295.0 L357,294.0 L357.12,296.0 L357.25,293.2 L357.38,294.4 L357.50,294.4 L357.62,296.2 L357.75,294.4 L357.88,297.8 L358,300.2 L358.12,295.5 L358.25,304.5 L358.38,306.2 L358.50,307.2 L358.62,311.5 L358.75,316.9 L358.88,316.9 L359,314.8 L359.12,311.4 L359.25,311.2 L359.38,306.1 L359.50,306.3 L359.62,304.4 L359.75,302.5 L359.88,302.9 L360,299.6 L360.12,298.0 L360.25,296.7 L360.38,293.7 L360.50,300.9 L360.62,293.1 L360.75,295.4 L360.88,295.6 L361,298.8 L361.12,299.9 L361.25,293.2 L361.38,298.6 L361.50,296.9 L361.62,301.9 L361.75,307.5 L361.88,308.1 L362,308.8 L362.12,305.4 L362.25,311.2 L362.38,304.3 L362.50,303.3 L362.62,299.7 L362.75,293.8 L362.88,289.0 L363,289.7 L363.12,288.3 L363.25,288.5 L363.38,288.1 L363.50,285.6 L363.62,285.3 L363.75,284.9 L363.88,289.1 L364,288.3 L364.12,285.0 L364.25,287.7 L364.38,286.8 L364.50,287.5 L364.62,286.9 L364.75,283.8 L364.88,287.1 L365,285.0 L365.12,289.4 L365.25,285.0 L365.38,291.7 L365.50,291.9 L365.62,291.9 L365.75,291.9 L365.88,291.9 L366,291.9 L366.12,290.0 L366.25,288.4 L366.38,287.0 L366.50,289.4 L366.62,288.2 L366.75,289.9 L366.88,286.9 L367,286.9 L367.12,297.8 L367.25,298.3 L367.38,294.8 L367.50,296.9 L367.62,299.5 L367.75,299.4 L367.88,299.2 L368,298.2 L368.12,299.0 L368.25,297.5 L368.38,300.9 L368.50,300.8 L368.62,302.4 L368.75,301.9 L368.88,298.9 L369,301.4 L369.12,301.1 L369.25,302.5 L369.38,298.2 L369.50,301.3 L369.62,302.2 L369.75,299.4 L369.88,301.1 L370,297.8 L370.12,297.3 L370.25,297.9 L370.38,300.8 L370.50,302.6 L370.62,298.1 L370.75,298.8 L370.88,298.4 L371,302.8 L371.12,303.4 L371.25,301.2 L371.38,302.9 L371.50,306.2 L371.62,309.6 L371.75,315.5 L371.88,317.2 L372,312.4 L372.12,311.3 L372.25,314.0 L372.38,307.4 L372.50,309.7 L372.62,308.9 L372.75,306.2 L372.88,305.1 L373,301.5 L373.12,303.6 L373.25,301.9 L373.38,303.1 L373.50,301.2 L373.62,301.2 L373.75,306.4 L373.88,301.2 L374,304.3 L374.12,305.7 L374.25,309.5 L374.38,307.5 L374.50,306.5 L374.62,310.7 L374.75,308.3 L374.88,312.8 L375,313.1 L375.12,311.2 L375.25,313.1 L375.38,313.0 L375.50,307.7 L375.62,311.9 L375.75,311.3 L375.88,306.5 L376,305.0 L376.12,304.0 L376.25,305.9 L376.38,307.7 L376.50,307.1 L376.62,306.6 L376.75,303.1 L376.88,303.8 L377,303.8 L377.12,309.2 L377.25,303.8 L377.38,309.4 L377.50,309.4 L377.62,309.4 L377.75,309.4 L377.88,309.4 L378,306.1 L378.12,302.3 L378.25,304.5 L378.38,303.0 L378.50,302.5 L378.62,302.2 L378.75,304.3 L378.88,301.5 L379,302.4 L379.12,302.9 L379.25,301.4 L379.38,301.2 L379.50,302.6 L379.62,301.8 L379.75,300.8 L379.88,299.6 L380,300.0 L380.12,296.5 L380.25,300.7 L380.38,296.0 L380.50,292.5 L380.62,292.5 L380.75,292.5 L380.88,292.3 L381,291.5 L381.12,296.0 L381.25,291.9 L381.38,294.7 L381.50,293.1 L381.62,294.6 L381.75,292.9 L381.88,296.3 L382,296.9 L382.12,299.8 L382.25,297.8 L382.38,301.2 L382.50,301.2 L382.62,297.4 L382.75,298.8 L382.88,304.9 L383,305.6 L383.12,303.6 L383.25,302.2 L383.38,307.7 L383.50,305.0 L383.62,303.2 L383.75,304.0 L383.88,309.1 L384,309.8 L384.12,305.5 L384.25,305.9 L384.38,310.0 L384.50,312.1 L384.62,311.2 L384.75,308.7 L384.88,311.6 L385,314.4 L385.12,310.4 L385.25,312.5 L385.38,317.3 L385.50,317.9 L385.62,317.5 L385.75,314.0 L385.88,323.5 L386,318.9 L386.12,328.4 L386.25,327.5 L386.38,331.5 L386.50,338.7 L386.62,335.1 L386.75,339.5 L386.88,342.5 L387,341.0 L387.12,333.5 L387.25,329.6 L387.38,326.6 L387.50,323.8 L387.62,323.4 L387.75,322.7 L387.88,324.5 L388,324.5 L388.12,323.2 L388.25,327.2 L388.38,322.5 L388.50,322.5 L388.62,328.9 L388.75,327.4 L388.88,333.7 L389,335.0 L389.12,332.1 L389.25,338.4 L389.38,339.0 L389.50,339.8 L389.62,341.0 L389.75,343.8 L389.88,345.0 L390,346.3 L390.12,345.5 L390.25,350.5 L390.38,352.6 L390.50,354.6 L390.62,357.5 L390.75,352.9 L390.88,351.7 L391,350.8 L391.12,346.0 L391.25,343.8 L391.38,341.0 L391.50,343.2 L391.62,340.6 L391.75,338.8 L391.88,335.0 L392,336.3 L392.12,331.5 L392.25,330.6 L392.38,332.2 L392.50,328.1 L392.62,327.7 L392.75,327.7 L392.88,328.8 L393,328.7 L393.12,327.1 L393.25,328.3 L393.38,327.1 L393.50,327.5 L393.62,327.8 L393.75,327.7 L393.88,326.4 L394,323.8 L394.12,323.8 L394.25,316.9 L394.38,314.6 L394.50,314.6 L394.62,314.4 L394.75,317.3 L394.88,321.7 L395,316.0 L395.12,321.7 L395.25,322.5 L395.38,321.4 L395.50,322.7 L395.62,324.9 L395.75,328.4 L395.88,328.2 L396,328.8 L396.12,333.1 L396.25,329.4 L396.38,335.3 L396.50,336.2 L396.62,336.2 L396.75,335.5 L396.88,335.6 L397,332.3 L397.12,330.1 L397.25,330.8 L397.38,329.4 L397.50,330.0 L397.62,333.4 L397.75,326.8 L397.88,331.1 L398,326.5 L398.12,325.0 L398.25,325.6 L398.38,326.5 L398.50,323.3 L398.62,326.4 L398.75,325.0 L398.88,322.0 L399,325.2 L399.12,324.9 L399.25,324.5 L399.38,323.1 L399.50,324.6 L399.62,321.6 L399.75,323.7 L399.88,324.0 L400,320.0 L400.12,323.4 L400.25,319.1 L400.38,318.7 L400.50,322.1 L400.62,320.6 L400.75,317.1 L400.88,319.1 L401,314.3 L401.12,318.3 L401.25,314.4 L401.38,317.8 L401.50,316.2 L401.62,308.6 L401.75,310.9 L401.88,306.2 L402,305.7 L402.12,306.3 L402.25,305.8 L402.38,306.3 L402.50,304.3 L402.62,304.5 L402.75,305.6 L402.88,306.3 L403,305.4 L403.12,305.9 L403.25,309.1 L403.38,305.7 L403.50,306.7 L403.62,307.7 L403.75,310.0 L403.88,307.9 L404,311.8 L404.12,310.9 L404.25,309.6 L404.38,310.1 L404.50,315.0 L404.62,313.1 L404.75,312.7 L404.88,317.7 L405,318.7 L405.12,313.9 L405.25,317.6 L405.38,321.9 L405.50,321.3 L405.62,321.7 L405.75,321.9 L405.88,321.9 L406,321.8 L406.12,317.7 L406.25,318.1 L406.38,316.9 L406.50,319.0 L406.62,315.1 L406.75,318.5 L406.88,313.1 L407,316.2 L407.12,313.3 L407.25,313.1 L407.38,312.3 L407.50,316.0 L407.62,314.5 L407.75,313.9 L407.88,311.5 L408,312.9 L408.12,314.4 L408.25,314.6 L408.38,310.8 L408.50,309.9 L408.62,309.9 L408.75,309.8 L408.88,310.2 L409,310.0 L409.12,308.9 L409.25,308.5 L409.38,308.2 L409.50,311.4 L409.62,306.3 L409.75,309.9 L409.88,307.9 L410,309.4 L410.12,304.6 L410.25,308.7 L410.38,306.6 L410.50,301.6 L410.62,301.9 L410.75,304.1 L410.88,301.4 L411,300.8 L411.12,304.4 L411.25,300.8 L411.38,299.1 L411.50,303.0 L411.62,303.0 L411.75,301.2 L411.88,301.2 L412,297.9 L412.12,299.2 L412.25,301.1 L412.38,301.7 L412.50,298.8 L412.62,302.6 L412.75,299.0 L412.88,298.9 L413,300.8 L413.12,303.9 L413.25,299.4 L413.38,304.8 L413.50,303.1 L413.62,301.0 L413.75,306.2 L413.88,302.4 L414,306.3 L414.12,306.9 L414.25,302.4 L414.38,306.2 L414.50,305.1 L414.62,305.2 L414.75,305.4 L414.88,300.0 L415,300.0 L415.12,300.0 L415.25,300.0 L415.38,303.9 L415.50,300.2 L415.62,300.5 L415.75,299.4 L415.88,303.8 L416,300.7 L416.12,304.2 L416.25,303.1 L416.38,304.5 L416.50,303.1 L416.62,304.9 L416.75,300.7 L416.88,301.8 L417,301.0 L417.12,300.2 L417.25,302.7 L417.38,302.1 L417.50,302.5 L417.62,303.4 L417.75,298.8 L417.88,299.0 L418,298.5 L418.12,298.7 L418.25,301.0 L418.38,300.5 L418.50,298.8 L418.62,299.9 L418.75,299.4 L418.88,303.5 L419,304.1 L419.12,298.5 L419.25,304.4 L419.38,306.2 L419.50,298.9 L419.62,296.3 L419.75,296.9 L419.88,297.2 L420,296.8 L420.12,296.8 L420.25,295.2 L420.38,295.4 L420.50,293.7 L420.62,297.0 L420.75,297.9 L420.88,297.8 L421,297.6 L421.12,292.9 L421.25,295.0 L421.38,293.4 L421.50,292.5 L421.62,295.6 L421.75,296.8 L421.88,296.7 L422,292.0 L422.12,291.9 L422.25,292.2 L422.38,295.6 L422.50,293.8 L422.62,294.3 L422.75,295.7 L422.88,296.2 L423,293.1 L423.12,296.2 L423.25,291.7 L423.38,296.2 L423.50,292.2 L423.62,287.0 L423.75,287.5 L423.88,286.8 L424,286.6 L424.12,286.2 L424.25,287.2 L424.38,287.0 L424.50,289.2 L424.62,286.1 L424.75,285.3 L424.88,285.8 L425,286.2 L425.12,291.2 L425.25,286.2 L425.38,289.8 L425.50,290.3 L425.62,291.2 L425.75,291.7 L425.88,289.0 L426,291.6 L426.12,291.3 L426.25,288.5 L426.38,287.0 L426.50,288.1 L426.62,286.7 L426.75,283.2 L426.88,285.1 L427,283.9 L427.12,285.0 L427.25,287.2 L427.38,286.4 L427.50,281.9 L427.62,279.9 L427.75,283.3 L427.88,281.8 L428,283.0 L428.12,280.0 L428.25,280.5 L428.38,277.4 L428.50,278.8 L428.62,276.2 L428.75,280.9 L428.88,280.7 L429,280.1 L429.12,279.0 L429.25,278.1 L429.38,276.9 L429.50,276.4 L429.62,276.8 L429.75,281.5 L429.88,280.5 L430,278.4 L430.12,277.7 L430.25,281.9 L430.38,283.9 L430.50,279.5 L430.62,284.9 L430.75,285.4 L430.88,286.0 L431,281.5 L431.12,284.0 L431.25,284.4 L431.38,283.1 L431.50,285.9 L431.62,285.0 L431.75,283.7 L431.88,288.7 L432,284.5 L432.12,285.9 L432.25,288.1 L432.38,289.6 L432.50,286.0 L432.62,286.2 L432.75,288.9 L432.88,286.2 L433,284.9 L433.12,286.9 L433.25,286.4 L433.38,288.9 L433.50,286.9 L433.62,283.7 L433.75,288.2 L433.88,283.0 L434,284.2 L434.12,283.9 L434.25,285.7 L434.38,284.4 L434.50,285.7 L434.62,285.4 L434.75,279.9 L434.88,284.7 L435,284.3 L435.12,283.1 L435.25,279.4 L435.38,278.9 L435.50,284.1 L435.62,281.1 L435.75,283.5 L435.88,281.9 L436,285.0 L436.12,285.4 L436.25,285.0 L436.38,286.1 L436.50,283.8 L436.62,286.5 L436.75,286.2 L436.88,280.9 L437,285.3 L437.12,279.9 L437.25,283.1 L437.38,284.0 L437.50,283.8 L437.62,283.5 L437.75,281.1 L437.88,277.6 L438,275.7 L438.12,275.4 L438.25,280.0 L438.38,275.5 L438.50,275.6 L438.62,274.1 L438.75,277.4 L438.88,273.3 L439,273.5 L439.12,273.3 L439.25,277.5 L439.38,277.4 L439.50,274.0 L439.62,272.2 L439.75,274.4 L439.88,275.5 L440,274.8 L440.12,276.0 L440.25,276.7 L440.38,273.6 L440.50,275.7 L440.62,275.0 L440.75,275.0 L440.88,273.8 L441,270.5 L441.12,269.2 L441.25,272.8 L441.38,268.1 L441.50,268.1 L441.62,268.2 L441.75,267.9 L441.88,268.1 L442,273.3 L442.12,271.5 L442.25,272.5 L442.38,274.3 L442.50,273.8 L442.62,269.8 L442.75,272.7 L442.88,273.7 L443,274.8 L443.12,269.5 L443.25,274.2 L443.38,271.9 L443.50,270.6 L443.62,277.1 L443.75,277.5 L443.88,276.5 L444,275.6 L444.12,281.7 L444.25,277.7 L444.38,277.2 L444.50,278.5 L444.62,277.4 L444.75,281.9 L444.88,283.8 L445,279.4 L445.12,287.7 L445.25,290.0 L445.38,290.0 L445.50,290.0 L445.62,286.3 L445.75,290.0 L445.88,283.6 L446,285.0 L446.12,284.1 L446.25,282.0 L446.38,281.7 L446.50,281.2 L446.62,285.7 L446.75,284.2 L446.88,281.9 L447,279.9 L447.12,283.5 L447.25,283.2 L447.38,280.6 L447.50,281.3 L447.62,280.0 L447.75,279.1 L447.88,277.9 L448,280.4 L448.12,280.6 L448.25,282.1 L448.38,281.8 L448.50,278.3 L448.62,276.4 L448.75,277.6 L448.88,280.9 L449,277.5 L449.12,278.5 L449.25,274.9 L449.38,278.1 L449.50,275.8 L449.62,278.2 L449.75,274.6 L449.88,274.3 L450,275.6 L450.12,276.5 L450.25,279.6 L450.38,275.5 L450.50,277.7 L450.62,281.6 L450.75,278.0 L450.88,277.7 L451,280.6 L451.12,283.7 L451.25,284.3 L451.38,284.9 L451.50,280.1 L451.62,286.1 L451.75,281.3 L451.88,284.4 L452,283.2 L452.12,288.2 L452.25,288.8 L452.38,283.9 L452.50,285.3 L452.62,288.8 L452.75,288.8 L452.88,285.2 L453,289.8 L453.12,289.5 L453.25,285.7 L453.38,288.6 L453.50,289.0 L453.62,287.1 L453.75,285.6 L453.88,287.3 L454,288.2 L454.12,283.6 L454.25,285.7 L454.38,283.2 L454.50,287.3 L454.62,283.4 L454.75,286.3 L454.88,285.0 L455,284.4 L455.12,285.0 L455.25,288.3 L455.38,285.4 L455.50,288.7 L455.62,289.0 L455.75,289.2 L455.88,286.9 L456,289.6 L456.12,289.9 L456.25,288.8 L456.38,286.6 L456.50,289.5 L456.62,288.1 L456.75,288.3 L456.88,290.0 L457,285.9 L457.12,284.3 L457.25,288.1 L457.38,282.6 L457.50,284.8 L457.62,283.3 L457.75,284.7 L457.88,283.8 L458,284.3 L458.12,286.2 L458.25,280.7 L458.38,279.9 L458.50,276.9 L458.62,273.2 L458.75,277.0 L458.88,278.9 L459,277.9 L459.12,268.2 L459.25,274.3 L459.38,270.0 L459.50,273.7 L459.62,271.9 L459.75,265.1 L459.88,266.3 L460,269.1 L460.12,267.8 L460.25,263.4 L460.38,263.0 L460.50,268.0 L460.62,263.8 L460.75,261.9 L460.88,266.9 L461,263.5 L461.12,264.4 L461.25,260.4 L461.38,260.7 L461.50,265.5 L461.62,259.9 L461.75,265.2 L461.88,262.5 L462,259.5 L462.12,259.3 L462.25,262.1 L462.38,263.7 L462.50,264.3 L462.62,259.9 L462.75,260.4 L462.88,260.1 L463,258.5 L463.12,260.6 L463.25,253.7 L463.38,261.2 L463.50,257.5 L463.62,255.8 L463.75,253.8 L463.88,253.3 L464,254.7 L464.12,253.5 L464.25,253.2 L464.38,256.3 L464.50,250.3 L464.62,254.4 L464.75,249.5 L464.88,251.9 L465,253.1 L465.12,254.1 L465.25,247.9 L465.38,250.6 L465.50,247.8 L465.62,253.0 L465.75,246.0 L465.88,245.5 L466,247.5 L466.12,249.2 L466.25,244.9 L466.38,244.5 L466.50,248.4 L466.62,241.9 L466.75,242.7 L466.88,243.8 L467,243.9 L467.12,244.6 L467.25,240.0 L467.38,245.2 L467.50,245.0 L467.62,239.5 L467.75,240.2 L467.88,247.3 L468,240.2 L468.12,248.1 L468.25,243.6 L468.38,246.9 L468.50,247.5 L468.62,246.4 L468.75,245.5 L468.88,244.9 L469,247.3 L469.12,252.4 L469.25,252.8 L469.38,250.0 L469.50,249.0 L469.62,248.8 L469.75,249.1 L469.88,249.7 L470,252.5 L470.12,256.3 L470.25,256.5 L470.38,255.2 L470.50,253.5 L470.62,256.2 L470.75,250.7 L470.88,256.2 L471,255.4 L471.12,247.6 L471.25,249.4 L471.38,253.1 L471.50,246.2 L471.62,250.7 L471.75,244.8 L471.88,245.3 L472,248.7 L472.12,248.0 L472.25,245.6 L472.38,247.9 L472.50,241.7 L472.62,247.5 L472.75,242.5 L472.88,247.3 L473,243.7 L473.12,246.4 L473.25,242.1 L473.38,245.0 L473.50,242.6 L473.62,247.3 L473.75,247.5 L473.88,248.5 L474,253.5 L474.12,251.9 L474.25,251.5 L474.38,248.1 L474.50,252.3 L474.62,258.5 L474.75,265.0 L474.88,265.1 L475,268.7 L475.12,262.0 L475.25,273.6 L475.38,266.4 L475.50,271.7 L475.62,275.0 L475.75,275.6 L475.88,274.2 L476,279.6 L476.12,276.8 L476.25,281.8 L476.38,282.4 L476.50,278.8 L476.62,278.1 L476.75,282.3 L476.88,286.5 L477,282.0 L477.12,284.5 L477.25,283.4 L477.38,286.6 L477.50,287.5 L477.62,284.7 L477.75,284.7 L477.88,286.3 L478,286.1 L478.12,280.2 L478.25,278.8 L478.38,279.6 L478.50,275.0 L478.62,275.0 L478.75,274.6 L478.88,278.9 L479,273.7 L479.12,278.8 L479.25,273.8 L479.38,277.5 L479.50,278.2 L479.62,272.8 L479.75,277.9 L479.88,277.9 L480,272.7 L480.12,277.5 L480.25,273.1 L480.38,271.7 L480.50,271.4 L480.62,276.2 L480.75,276.3 L480.88,273.2 L481,270.8 L481.12,274.0 L481.25,274.4 L481.38,272.6 L481.50,271.6 L481.62,271.2 L481.75,268.2 L481.88,268.7 L482,273.5 L482.12,272.8 L482.25,268.8 L482.38,266.8 L482.50,264.8 L482.62,268.4 L482.75,269.3 L482.88,268.4 L483,260.6 L483.12,264.4 L483.25,264.0 L483.38,262.9 L483.50,265.5 L483.62,264.9 L483.75,259.4 L483.88,262.0 L484,264.0 L484.12,259.5 L484.25,264.6 L484.38,260.4 L484.50,264.2 L484.62,266.1 L484.75,263.8 L484.88,261.7 L485,262.3 L485.12,262.8 L485.25,266.9 L485.38,266.7 L485.50,266.3 L485.62,268.1 L485.75,272.4 L485.88,266.4 L486,275.2 L486.12,277.9 L486.25,280.0 L486.38,276.6 L486.50,275.0 L486.62,278.9 L486.75,281.9 L486.88,276.5 L487,275.7 L487.12,278.0 L487.25,281.4 L487.38,284.1 L487.50,283.1 L487.62,281.5 L487.75,289.1 L487.88,283.7 L488,291.2 L488.12,291.2 L488.25,292.6 L488.38,293.8 L488.50,293.8 L488.62,291.8 L488.75,291.1 L488.88,292.1 L489,292.3 L489.12,286.2 L489.25,288.2 L489.38,286.2 L489.50,285.9 L489.62,289.2 L489.75,290.3 L489.88,288.2 L490,288.1 L490.12,289.5 L490.25,287.0 L490.38,292.1 L490.50,292.0 L490.62,290.6 L490.75,291.6 L490.88,290.2 L491,289.6 L491.12,291.8 L491.25,295.1 L491.38,292.9 L491.50,296.0 L491.62,291.8 L491.75,293.1 L491.88,295.0 L492,296.3 L492.12,295.9 L492.25,294.0 L492.38,294.7 L492.50,299.3 L492.62,295.2 L492.75,298.1 L492.88,296.0 L493,296.3 L493.12,297.4 L493.25,301.3 L493.38,301.5 L493.50,298.5 L493.62,303.7 L493.75,300.6 L493.88,299.7 L494,300.5 L494.12,306.2 L494.25,303.6 L494.38,301.0 L494.50,303.6 L494.62,306.2 L494.75,303.1 L494.88,301.2 L495,302.1 L495.12,304.7 L495.25,302.1 L495.38,300.0 L495.50,294.3 L495.62,302.9 L495.75,292.4 L495.88,294.4 L496,292.5 L496.12,291.8 L496.25,293.4 L496.38,289.0 L496.50,290.8 L496.62,292.3 L496.75,288.0 L496.88,286.9 L497,285.2 L497.12,287.4 L497.25,284.1 L497.38,284.6 L497.50,286.2 L497.62,286.4 L497.75,285.0 L497.88,283.6 L498,286.6 L498.12,283.1 L498.25,281.8 L498.38,285.9 L498.50,282.5 L498.62,282.5 L498.75,289.1 L498.88,284.1 L499,289.4 L499.12,288.8 L499.25,292.0 L499.38,285.2 L499.50,290.8 L499.62,294.3 L499.75,300.0 L499.88,306.8 L500,299.8 L500.12,310.6 L500.25,310.6 L500.38,314.4 L500.50,313.5 L500.62,314.8 L500.75,312.4 L500.88,314.5 L501,315.9 L501.12,316.9 L501.25,316.9 L501.38,316.4 L501.50,311.6 L501.62,307.8 L501.75,305.8 L501.88,305.0 L502,305.5 L502.12,300.1 L502.25,299.2 L502.38,300.9 L502.50,299.8 L502.62,299.9 L502.75,300.0 L502.88,291.5 L503,296.0 L503.12,294.8 L503.25,296.6 L503.38,288.5 L503.50,291.2 L503.62,289.5 L503.75,291.4 L503.88,290.7 L504,292.3 L504.12,291.1 L504.25,285.2 L504.38,286.2 L504.50,288.1 L504.62,284.6 L504.75,284.0 L504.88,290.4 L505,284.4 L505.12,284.4 L505.25,284.4 L505.38,288.2 L505.50,292.1 L505.62,300.0 L505.75,305.5 L505.88,306.1 L506,311.5 L506.12,311.1 L506.25,312.5 L506.38,320.0 L506.50,330.6 L506.62,330.6 L506.75,326.6 L506.88,325.8 L507,325.2 L507.12,324.5 L507.25,323.1 L507.38,324.0 L507.50,317.3 L507.62,317.7 L507.75,314.6 L507.88,312.5 L508,310.4 L508.12,310.1 L508.25,310.8 L508.38,312.2 L508.50,311.6 L508.62,311.7 L508.75,310.0 L508.88,309.6 L509,307.7 L509.12,309.7 L509.25,307.5 L509.38,307.5 L509.50,307.5 L509.62,309.6 L509.75,308.1 L509.88,312.2 L510,313.1 L510.12,315.1 L510.25,318.1 L510.38,316.4 L510.50,312.9 L510.62,312.3 L510.75,307.2 L510.88,310.7 L511,308.8 L511.12,305.4 L511.25,308.3 L511.38,302.6 L511.50,303.2 L511.62,305.4 L511.75,300.7 L511.88,303.1 L512,301.4 L512.12,302.2 L512.25,301.6 L512.38,296.9 L512.50,300.7 L512.62,299.8 L512.75,298.8 L512.88,294.7 L513,299.0 L513.12,295.5 L513.25,294.7 L513.38,292.2 L513.50,294.4 L513.62,292.0 L513.75,290.6 L513.88,294.0 L514,291.3 L514.12,287.6 L514.25,288.3 L514.38,291.1 L514.50,287.1 L514.62,289.2 L514.75,287.5 L514.88,289.0 L515,286.4 L515.12,284.4 L515.25,286.9 L515.38,286.9 L515.50,286.4 L515.62,285.6 L515.75,283.2 L515.88,287.8 L516,284.6 L516.12,283.0 L516.25,283.6 L516.38,285.8 L516.50,284.4 L516.62,284.4 L516.75,284.4 L516.88,291.2 L517,291.2 L517.12,291.2 L517.25,291.2 L517.38,291.2 L517.50,290.0 L517.62,280.7 L517.75,288.9 L517.88,287.5 L518,283.3 L518.12,280.0 L518.25,280.0 L518.38,284.7 L518.50,283.9 L518.62,279.7 L518.75,282.2 L518.88,283.3 L519,282.5 L519.12,281.3 L519.25,282.5 L519.38,280.2 L519.50,281.5 L519.62,278.5 L519.75,272.0 L519.88,272.9 L520,275.6 L520.12,278.9 L520.25,271.7 L520.38,273.1 L520.50,270.0 L520.62,263.1 L520.75,271.7 L520.88,269.0 L521,266.5 L521.12,270.7 L521.25,272.5 L521.38,265.4 L521.50,269.6 L521.62,272.5 L521.75,263.8 L521.88,267.8 L522,269.1 L522.12,270.0 L522.25,263.8 L522.38,263.8 L522.50,264.3 L522.62,263.8 L522.75,266.0 L522.88,273.3 L523,274.4 L523.12,274.4 L523.25,268.9 L523.38,274.4 L523.50,272.2 L523.62,267.5 L523.75,268.1 L523.88,272.9 L524,260.5 L524.12,263.4 L524.25,263.0 L524.38,260.6 L524.50,266.3 L524.62,265.3 L524.75,264.5 L524.88,260.9 L525,263.1 L525.12,262.8 L525.25,262.2 L525.38,261.6 L525.50,259.3 L525.62,260.0 L525.75,257.6 L525.88,254.9 L526,260.4 L526.12,255.3 L526.25,254.6 L526.38,256.8 L526.50,255.0 L526.62,255.9 L526.75,257.8 L526.88,264.6 L527,258.7 L527.12,259.1 L527.25,261.2 L527.38,260.2 L527.50,264.9 L527.62,265.2 L527.75,268.8 L527.88,270.1 L528,272.5 L528.12,271.9 L528.25,267.7 L528.38,273.6 L528.50,273.5 L528.62,273.1 L528.75,273.1 L528.88,273.1 L529,273.1 L529.12,271.0 L529.25,272.3 L529.38,269.2 L529.50,269.1 L529.62,260.2 L529.75,260.6 L529.88,260.2 L530,257.6 L530.12,263.2 L530.25,261.9 L530.38,256.5 L530.50,260.1 L530.62,257.5 L530.75,259.2 L530.88,258.8 L531,250.0 L531.12,252.8 L531.25,254.8 L531.38,250.9 L531.50,250.0 L531.62,251.9 L531.75,254.4 L531.88,252.1 L532,248.0 L532.12,253.8 L532.25,251.0 L532.38,252.1 L532.50,251.9 L532.62,248.3 L532.75,244.9 L532.88,244.1 L533,245.8 L533.12,246.2 L533.25,242.4 L533.38,242.3 L533.50,248.3 L533.62,241.6 L533.75,242.5 L533.88,240.5 L534,244.6 L534.12,239.7 L534.25,245.3 L534.38,238.9 L534.50,244.7 L534.62,239.5 L534.75,242.9 L534.88,241.8 L535,241.2 L535.12,241.0 L535.25,237.6 L535.38,237.4 L535.50,240.1 L535.62,242.7 L535.75,237.4 L535.88,241.7 L536,239.4 L536.12,239.4 L536.25,240.1 L536.38,240.8 L536.50,234.5 L536.62,235.6 L536.75,237.5 L536.88,236.1 L537,236.1 L537.12,235.1 L537.25,235.4 L537.38,235.9 L537.50,240.0 L537.62,236.9 L537.75,243.5 L537.88,244.0 L538,241.6 L538.12,244.6 L538.25,238.8 L538.38,238.8 L538.50,243.1 L538.62,238.0 L538.75,242.3 L538.88,243.6 L539,240.1 L539.12,237.3 L539.25,237.7 L539.38,238.1 L539.50,236.0 L539.62,235.6 L539.75,236.7 L539.88,235.8 L540,234.4 L540.12,234.2 L540.25,234.0 L540.38,238.2 L540.50,239.6 L540.62,236.9 L540.75,235.5 L540.88,238.9 L541,232.6 L541.12,236.7 L541.25,232.5 L541.38,234.0 L541.50,234.4 L541.62,235.0 L541.75,237.3 L541.88,238.1 L542,232.4 L542.12,231.0 L542.25,234.4 L542.38,235.6 L542.50,235.6 L542.62,230.7 L542.75,235.6 L542.88,235.6 L543,224.4 L543.12,227.5 L543.25,228.2 L543.38,230.4 L543.50,224.4 L543.62,224.2 L543.75,227.5 L543.88,226.5 L544,224.4 L544.12,231.9 L544.25,231.8 L544.38,231.9 L544.50,228.5 L544.62,231.9 L544.75,231.8 L544.88,231.3 L545,229.4 L545.12,227.5 L545.25,219.6 L545.38,221.3 L545.50,223.0 L545.62,221.2 L545.75,216.1 L545.88,224.2 L546,216.7 L546.12,215.0 L546.25,214.7 L546.38,217.2 L546.50,215.0 L546.62,215.4 L546.75,212.9 L546.88,213.6 L547,213.0 L547.12,213.6 L547.25,215.9 L547.38,215.0 L547.50,216.9 L547.62,221.5 L547.75,218.5 L547.88,221.1 L548,223.6 L548.12,226.2 L548.25,226.2 L548.38,226.2 L548.50,226.2 L548.62,224.3 L548.75,220.0 L548.88,221.1 L549,225.0 L549.12,221.6 L549.25,218.1 L549.38,218.1 L549.50,218.1 L549.62,218.1 L549.75,226.4 L549.88,232.0 L550,231.1 L550.12,225.0 L550.25,233.8 L550.38,218.1 L550.50,231.8 L550.62,247.5 L550.75,220.0 L550.88,220.8 L551,218.8 L551.12,220.8 L551.25,218.8 L551.38,219.2 L551.50,218.8 L551.62,218.8 L551.75,228.4 L551.88,227.5 L552,222.9 L552.12,223.7 L552.25,230.0 L552.38,230.0 L552.50,229.3 L552.62,223.1 L552.75,230.0 L552.88,219.6 L553,216.8 L553.12,217.5 L553.25,222.9 L553.38,216.2 L553.50,218.7 L553.62,217.0 L553.75,211.5 L553.88,210.4 L554,216.2 L554.12,213.5 L554.25,216.8 L554.38,205.7 L554.50,216.3 L554.62,208.6 L554.75,205.6 L554.88,205.5 L555,209.0 L555.12,211.6 L555.25,205.6 L555.38,205.7 L555.50,212.5 L555.62,212.5 L555.75,204.6 L555.88,210.6 L556,201.7 L556.12,203.2 L556.25,201.9 L556.38,201.4 L556.50,201.0 L556.62,200.3 L556.75,202.5 L556.88,198.4 L557,195.7 L557.12,202.1 L557.25,201.2 L557.38,194.7 L557.50,201.1 L557.62,199.3 L557.75,195.0 L557.88,202.9 L558,202.6 L558.12,201.0 L558.25,201.9 L558.38,201.9 L558.50,203.1 L558.62,197.0 L558.75,204.0 L558.88,203.6 L559,198.3 L559.12,196.6 L559.25,203.5 L559.38,197.5 L559.50,200.8 L559.62,195.1 L559.75,202.3 L559.88,202.4 L560,199.2 L560.12,201.8 L560.25,200.0 L560.38,197.3 L560.50,195.8 L560.62,202.1 L560.75,202.1 L560.88,198.7 L561,197.0 L561.12,201.7 L561.25,196.9 L561.38,196.2 L561.50,202.9 L561.62,204.5 L561.75,196.9 L561.88,197.1 L562,202.6 L562.12,205.6 L562.25,205.0 L562.38,205.0 L562.50,205.0 L562.62,194.6 L562.75,202.0 L562.88,194.4 L563,197.0 L563.12,195.0 L563.25,196.4 L563.38,191.8 L563.50,192.4 L563.62,190.0 L563.75,194.3 L563.88,188.9 L564,191.9 L564.12,188.8 L564.25,192.5 L564.38,187.3 L564.50,193.8 L564.62,186.7 L564.75,191.7 L564.88,191.2 L565,189.4 L565.12,181.6 L565.25,184.6 L565.38,179.2 L565.50,180.2 L565.62,180.6 L565.75,178.4 L565.88,185.5 L566,176.2 L566.12,182.0 L566.25,180.2 L566.38,170.3 L566.50,176.2 L566.62,167.2 L566.75,177.3 L566.88,166.9 L567,174.5 L567.12,174.9 L567.25,166.9 L567.38,170.0 L567.50,167.0 L567.62,167.5 L567.75,171.3 L567.88,168.6 L568,167.9 L568.12,171.9 L568.25,166.4 L568.38,171.9 L568.50,162.5 L568.62,162.5 L568.75,168.6 L568.88,162.5 L569,165.6 L569.12,163.4 L569.25,172.5 L569.38,175.6 L569.50,175.6 L569.62,174.6 L569.75,168.3 L569.88,173.7 L570,166.3 L570.12,169.4 L570.25,165.6 L570.38,167.9 L570.50,170.1 L570.62,163.7 L570.75,163.8 L570.88,171.9 L571,168.2 L571.12,172.3 L571.25,170.0 L571.38,167.6 L571.50,164.7 L571.62,170.4 L571.75,169.7 L571.88,170.2 L572,167.6 L572.12,162.1 L572.25,162.5 L572.38,167.8 L572.50,160.8 L572.62,161.8 L572.75,162.5 L572.88,164.7 L573,171.7 L573.12,167.5 L573.25,166.8 L573.38,174.1 L573.50,171.4 L573.62,182.1 L573.75,168.0 L573.88,180.2 L574,183.8 L574.12,183.0 L574.25,173.9 L574.38,183.8 L574.50,178.2 L574.62,182.9 L574.75,179.3 L574.88,175.7 L575,170.0 L575.12,168.8 L575.25,167.6 L575.38,167.9 L575.50,166.2 L575.62,170.4 L575.75,165.7 L575.88,174.0 L576,168.1 L576.12,166.9 L576.25,175.5 L576.38,168.2 L576.50,170.6 L576.62,175.5 L576.75,174.0 L576.88,175.0 L577,165.1 L577.12,172.6 L577.25,166.3 L577.38,155.2 L577.50,163.8 L577.62,153.2 L577.75,157.5 L577.88,151.4 L578,158.2 L578.12,155.7 L578.25,150.6 L578.38,157.3 L578.50,150.0 L578.62,151.6 L578.75,143.6 L578.88,148.1 L579,144.5 L579.12,141.4 L579.25,140.8 L579.38,141.9 L579.50,139.7 L579.62,147.9 L579.75,141.7 L579.88,141.4 L580,139.8 L580.12,145.6 L580.25,144.4 L580.38,142.9 L580.50,144.4 L580.62,144.4 L580.75,144.4 L580.88,135.2 L581,134.4 L581.12,135.5 L581.25,128.3 L581.38,128.6 L581.50,121.7 L581.62,122.6 L581.75,119.5 L581.88,123.8 L582,118.1 L582.12,128.0 L582.25,122.3 L582.38,126.3 L582.50,118.1 L582.62,126.0 L582.75,128.0 L582.88,130.2 L583,120.0 L583.12,131.7 L583.25,125.2 L583.38,125.3 L583.50,130.6 L583.62,142.6 L583.75,152.8 L583.88,134.7 L584,145.0 L584.12,160.4 L584.25,158.0 L584.38,150.7 L584.50,161.8 L584.62,163.8 L584.75,162.4 L584.88,158.7 L585,150.1 L585.12,140.2 L585.25,145.0 L585.38,142.4 L585.50,145.3 L585.62,142.0 L585.75,138.4 L585.88,138.8 L586,128.1 L586.12,125.6 L586.25,126.8 L586.38,129.1 L586.50,133.3 L586.62,125.6 L586.75,128.9 L586.88,133.6 L587,132.9 L587.12,148.9 L587.25,136.2 L587.38,128.2 L587.50,144.2 L587.62,159.2 L587.75,152.5 L587.88,155.8 L588,144.1 L588.12,158.6 L588.25,150.3 L588.38,161.2 L588.50,154.6 L588.62,158.2 L588.75,161.2 L588.88,155.3 L589,150.0 L589.12,153.2 L589.25,154.3 L589.38,147.6 L589.50,139.2 L589.62,143.1 L589.75,142.5 L589.88,141.7 L590,134.3 L590.12,130.0 L590.25,130.0 L590.38,130.0 L590.50,129.8 L590.62,130.0 L590.75,131.0 L590.88,130.1 L591,132.5 L591.12,136.8 L591.25,148.8 L591.38,146.7 L591.50,148.8 L591.62,147.8 L591.75,139.5 L591.88,140.7 L592,148.5 L592.12,141.5 L592.25,147.4 L592.38,141.8 L592.50,143.1 L592.62,145.7 L592.75,145.9 L592.88,152.8 L593,147.0 L593.12,151.2 L593.25,149.3 L593.38,153.9 L593.50,153.2 L593.62,157.2 L593.75,152.2 L593.88,151.0 L594,155.0 L594.12,153.4 L594.25,159.0 L594.38,157.9 L594.50,161.1 L594.62,153.2 L594.75,162.1 L594.88,162.5 L595,158.8 L595.12,159.0 L595.25,155.2 L595.38,161.2 L595.50,163.4 L595.62,161.2 L595.75,154.0 L595.88,159.8 L596,149.5 L596.12,161.2 L596.25,157.5 L596.38,160.4 L596.50,158.3 L596.62,141.0 L596.75,154.8 L596.88,142.5 L597,148.2 L597.12,139.0 L597.25,144.3 L597.38,146.3 L597.50,137.5 L597.62,139.2 L597.75,138.8 L597.88,138.8 L598,148.8 L598.12,138.8 L598.25,148.8 L598.38,140.6 L598.50,148.8 L598.62,148.8 L598.75,137.1 L598.88,137.1 L599,137.7 L599.12,140.0 L599.25,144.1 L599.38,131.9 L599.50,139.3 L599.62,131.9 L599.75,131.9 L599.88,139.5 L600,130.6 L600.12,136.6 L600.25,132.5 L600.38,139.9 L600.50,132.0 L600.62,135.0 L600.75,136.2 L600.88,144.1 L601,139.6 L601.12,144.4 L601.25,136.7 L601.38,144.4 L601.50,144.4 L601.62,131.1 L601.75,140.5 L601.88,133.0 L602,130.6 L602.12,130.6 L602.25,130.6 L602.38,138.8 L602.50,133.8 L602.62,127.9 L602.75,135.2 L602.88,126.1 L603,128.5 L603.12,131.2 L603.25,131.6 L603.38,123.2 L603.50,123.2 L603.62,123.2 L603.75,124.4 L603.88,132.7 L604,133.5 L604.12,124.4 L604.25,137.5 L604.38,130.0 L604.50,132.5 L604.62,138.0 L604.75,137.1 L604.88,141.9 L605,141.2 L605.12,136.2 L605.25,138.6 L605.38,141.8 L605.50,145.8 L605.62,150.0 L605.75,150.0 L605.88,134.7 L606,150.0 L606.12,131.6 L606.25,132.5 L606.38,126.7 L606.50,134.3 L606.62,130.7 L606.75,124.4 L606.88,124.4 L607,124.4 L607.12,124.4 L607.25,124.4 L607.38,138.8 L607.50,138.8 L607.62,138.8 L607.75,138.8 L607.88,137.0 L608,134.1 L608.12,130.0 L608.25,130.5 L608.38,127.0 L608.50,115.0 L608.62,114.5 L608.75,117.5 L608.88,124.0 L609,107.2 L609.12,104.0 L609.25,107.2 L609.38,114.4 L609.50,114.7 L609.62,114.6 L609.75,102.5 L609.88,94.2 L610,91.2 L610.12,94.6 L610.25,86.6 L610.38,87.3 L610.50,80.6 L610.62,80.6 L610.75,81.4 L610.88,82.7 L611,83.8 L611.12,84.0 L611.25,84.1 L611.38,73.4 L611.50,73.8 L611.62,81.6 L611.75,80.4 L611.88,83.8" fill="none" stroke="#0080ff" stroke-width="1" stroke-linejoin="miter" shape-rendering="crispEdges"/>

<line x1="554" y1="67.5" x2="595" y2="67.5" stroke="#0080ff" stroke-width="1" shape-rendering="crispEdges"/>
<g stroke="#000" stroke-width="1" shape-rendering="crispEdges" fill="none">
<rect x="67.5" y="54.5" width="545" height="368"/>
<line x1="68" y1="369.5" x2="72" y2="369.5"/><line x1="608" y1="369.5" x2="612" y2="369.5"/>
<line x1="68" y1="317.5" x2="72" y2="317.5"/><line x1="608" y1="317.5" x2="612" y2="317.5"/>
<line x1="68" y1="264.5" x2="72" y2="264.5"/><line x1="608" y1="264.5" x2="612" y2="264.5"/>
<line x1="68" y1="212.5" x2="72" y2="212.5"/><line x1="608" y1="212.5" x2="612" y2="212.5"/>
<line x1="68" y1="159.5" x2="72" y2="159.5"/><line x1="608" y1="159.5" x2="612" y2="159.5"/>
<line x1="68" y1="107.5" x2="72" y2="107.5"/><line x1="608" y1="107.5" x2="612" y2="107.5"/>
<line x1="85.5" y1="55" x2="85.5" y2="57"/><line x1="85.5" y1="420" x2="85.5" y2="422"/>
<line x1="103.5" y1="55" x2="103.5" y2="57"/><line x1="103.5" y1="420" x2="103.5" y2="422"/>
<line x1="121.5" y1="55" x2="121.5" y2="59"/><line x1="121.5" y1="418" x2="121.5" y2="422"/>
<line x1="140.5" y1="55" x2="140.5" y2="57"/><line x1="140.5" y1="420" x2="140.5" y2="422"/>
<line x1="158.5" y1="55" x2="158.5" y2="57"/><line x1="158.5" y1="420" x2="158.5" y2="422"/>
<line x1="176.5" y1="55" x2="176.5" y2="59"/><line x1="176.5" y1="418" x2="176.5" y2="422"/>
<line x1="194.5" y1="55" x2="194.5" y2="57"/><line x1="194.5" y1="420" x2="194.5" y2="422"/>
<line x1="212.5" y1="55" x2="212.5" y2="57"/><line x1="212.5" y1="420" x2="212.5" y2="422"/>
<line x1="231.5" y1="55" x2="231.5" y2="59"/><line x1="231.5" y1="418" x2="231.5" y2="422"/>
<line x1="249.5" y1="55" x2="249.5" y2="57"/><line x1="249.5" y1="420" x2="249.5" y2="422"/>
<line x1="267.5" y1="55" x2="267.5" y2="57"/><line x1="267.5" y1="420" x2="267.5" y2="422"/>
<line x1="285.5" y1="55" x2="285.5" y2="59"/><line x1="285.5" y1="418" x2="285.5" y2="422"/>
<line x1="303.5" y1="55" x2="303.5" y2="57"/><line x1="303.5" y1="420" x2="303.5" y2="422"/>
<line x1="321.5" y1="55" x2="321.5" y2="57"/><line x1="321.5" y1="420" x2="321.5" y2="422"/>
<line x1="339.5" y1="55" x2="339.5" y2="59"/><line x1="339.5" y1="418" x2="339.5" y2="422"/>
<line x1="358.5" y1="55" x2="358.5" y2="57"/><line x1="358.5" y1="420" x2="358.5" y2="422"/>
<line x1="376.5" y1="55" x2="376.5" y2="57"/><line x1="376.5" y1="420" x2="376.5" y2="422"/>
<line x1="394.5" y1="55" x2="394.5" y2="59"/><line x1="394.5" y1="418" x2="394.5" y2="422"/>
<line x1="412.5" y1="55" x2="412.5" y2="57"/><line x1="412.5" y1="420" x2="412.5" y2="422"/>
<line x1="430.5" y1="55" x2="430.5" y2="57"/><line x1="430.5" y1="420" x2="430.5" y2="422"/>
<line x1="449.5" y1="55" x2="449.5" y2="59"/><line x1="449.5" y1="418" x2="449.5" y2="422"/>
<line x1="467.5" y1="55" x2="467.5" y2="57"/><line x1="467.5" y1="420" x2="467.5" y2="422"/>
<line x1="485.5" y1="55" x2="485.5" y2="57"/><line x1="485.5" y1="420" x2="485.5" y2="422"/>
<line x1="503.5" y1="55" x2="503.5" y2="59"/><line x1="503.5" y1="418" x2="503.5" y2="422"/>
<line x1="521.5" y1="55" x2="521.5" y2="57"/><line x1="521.5" y1="420" x2="521.5" y2="422"/>
<line x1="539.5" y1="55" x2="539.5" y2="57"/><line x1="539.5" y1="420" x2="539.5" y2="422"/>
<line x1="557.5" y1="55" x2="557.5" y2="59"/><line x1="557.5" y1="418" x2="557.5" y2="422"/>
<line x1="576.5" y1="55" x2="576.5" y2="57"/><line x1="576.5" y1="420" x2="576.5" y2="422"/>
<line x1="594.5" y1="55" x2="594.5" y2="57"/><line x1="594.5" y1="420" x2="594.5" y2="422"/>
</g>
<g>
<text x="337" y="31" text-anchor="middle" textLength="374.5" lengthAdjust="spacing">PNW Price History as of Wed, 17 Dec 2014 20:45:0 EST</text>
<text x="54" y="426" text-anchor="end">0</text>
<text x="54" y="373" text-anchor="end">10</text>
<text x="54" y="321" text-anchor="end">20</text>
<text x="54" y="268" text-anchor="end">30</text>
<text x="54" y="216" text-anchor="end">40</text>
<text x="54" y="163" text-anchor="end">50</text>
<text x="54" y="111" text-anchor="end">60</text>
<text x="54" y="58" text-anchor="end">70</text>
<text x="66" y="444" text-anchor="middle">01/85</text>
<text x="120" y="444" text-anchor="middle">01/88</text>
<text x="175" y="444" text-anchor="middle">01/91</text>
<text x="230" y="444" text-anchor="middle">01/94</text>
<text x="284" y="444" text-anchor="middle">01/97</text>
<text x="338" y="444" text-anchor="middle">01/00</text>
<text x="393" y="444" text-anchor="middle">01/03</text>
<text x="448" y="444" text-anchor="middle">01/06</text>
<text x="502" y="444" text-anchor="middle">01/09</text>
<text x="556" y="444" text-anchor="middle">01/12</text>
<text x="611" y="444" text-anchor="middle">01/15</text>
<text x="337" y="471" text-anchor="middle">Date</text>
<text transform="translate(15.7,239.6) rotate(-90)" text-anchor="middle" textLength="241.5" lengthAdjust="spacing">Split and Dividend Adjusted Price ($)</text>
<text x="541.5" y="71" text-anchor="end" textLength="258.5" lengthAdjust="spacing">"PNW_Complete_History.csv" using 1:7</text>
</g>
</svg>
</body></html>
